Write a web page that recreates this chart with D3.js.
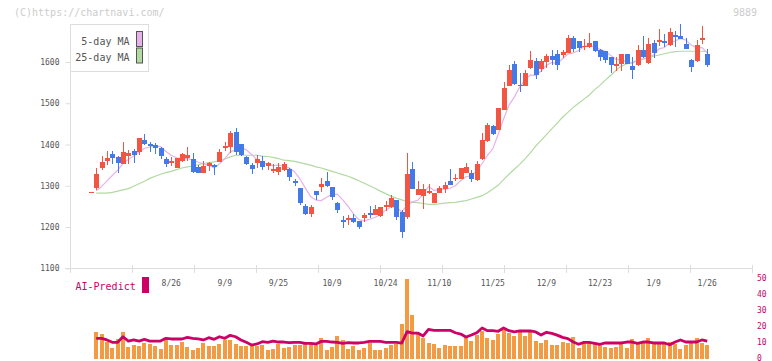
<!DOCTYPE html>
<html><head><meta charset="utf-8">
<script src="https://cdn.jsdelivr.net/npm/d3@7"></script>
<style>body{margin:0;background:#fff}svg{display:block}</style>
</head><body><svg id="c" width="772" height="361"></svg>
<script>
const dates = ["8/4","8/5","8/6","8/7","8/8","8/12","8/13","8/14","8/15","8/18","8/19","8/20","8/21","8/22","8/25","8/26","8/27","8/28","8/29","9/1","9/2","9/3","9/4","9/5","9/8","9/9","9/10","9/11","9/12","9/16","9/17","9/18","9/19","9/22","9/24","9/25","9/26","9/29","9/30","10/1","10/2","10/3","10/6","10/7","10/8","10/9","10/10","10/14","10/15","10/16","10/17","10/20","10/21","10/22","10/23","10/24","10/27","10/28","10/29","10/30","10/31","11/4","11/5","11/6","11/7","11/10","11/11","11/12","11/13","11/14","11/17","11/18","11/19","11/20","11/21","11/25","11/26","11/27","11/28","12/1","12/2","12/3","12/4","12/5","12/8","12/9","12/10","12/11","12/12","12/15","12/16","12/17","12/18","12/19","12/22","12/23","12/24","12/25","12/26","12/29","12/30","1/5","1/6","1/7","1/8","1/9","1/13","1/14","1/15","1/16","1/19","1/20","1/21","1/22","1/23","1/26"];

const open = [1285,
1294,1344,1361,1378,1370,1353,1373,1384,1382,1411,
1401,1399,1392,1365,1356,1344,1360,1368,1366,1345,
1332,1347,1351,1358,1392,1395,1430,1401,1370,1350,
1356,1361,1347,1339,1334,1338,1341,1312,1294,1251,
1232,1287,1297,1311,1297,1258,1218,1218,1222,1215,
1222,1234,1229,1227,1249,1249,1265,1236,1225,1341,
1278,1275,1286,1258,1282,1292,1311,1318,1316,1331,
1331,1314,1365,1408,1445,1435,1484,1542,1595,1545,
1542,1585,1602,1583,1600,1614,1619,1617,1622,1658,
1651,1638,1636,1651,1629,1626,1612,1594,1595,1619,
1590,1593,1629,1597,1646,1648,1651,1641,1665,1663,
1643,1604,1602,1657,1619];

const high = [1285,
1343,1372,1384,1384,1372,1406,1387,1389,1416,1425,
1406,1403,1395,1369,1370,1367,1380,1394,1379,1350,
1359,1358,1353,1390,1406,1433,1441,1402,1372,1354,
1375,1372,1358,1352,1354,1358,1342,1316,1295,1256,
1253,1288,1320,1334,1298,1261,1227,1229,1232,1215,
1234,1251,1253,1249,1264,1278,1266,1241,1379,1358,
1312,1304,1304,1282,1299,1309,1341,1329,1343,1355,
1339,1360,1429,1452,1447,1488,1551,1593,1602,1573,
1581,1627,1609,1607,1619,1629,1629,1629,1665,1663,
1652,1656,1670,1652,1631,1627,1613,1612,1619,1620,
1612,1641,1663,1658,1653,1680,1668,1682,1675,1692,
1658,1607,1653,1687,1631];

const low = [1285,
1289,1338,1350,1353,1332,1352,1353,1356,1374,1399,
1382,1377,1365,1346,1348,1344,1358,1360,1331,1331,
1331,1336,1326,1357,1384,1380,1375,1372,1351,1329,
1344,1338,1338,1332,1327,1336,1312,1299,1253,1229,
1225,1266,1286,1296,1266,1235,1198,1205,1211,1195,
1213,1223,1228,1225,1240,1246,1218,1173,1220,1291,
1277,1244,1280,1258,1282,1282,1301,1312,1316,1330,
1309,1312,1362,1407,1423,1435,1483,1541,1544,1527,
1541,1584,1559,1575,1585,1593,1580,1609,1621,1624,
1624,1629,1635,1624,1602,1598,1573,1578,1578,1595,
1559,1590,1609,1595,1609,1639,1636,1639,1636,1655,
1631,1575,1600,1644,1588];

const close = [1285,
1328,1358,1367,1368,1355,1382,1380,1375,1416,1402,
1396,1391,1372,1352,1360,1367,1378,1375,1334,1332,
1348,1356,1346,1382,1396,1429,1382,1375,1353,1341,
1365,1346,1354,1340,1346,1353,1322,1307,1259,1232,
1248,1278,1304,1299,1272,1241,1213,1223,1212,1200,
1229,1229,1244,1248,1253,1270,1224,1189,1328,1292,
1292,1292,1287,1282,1295,1302,1302,1319,1343,1345,
1316,1353,1411,1447,1425,1488,1537,1580,1546,1544,
1573,1604,1568,1602,1614,1605,1593,1624,1658,1631,
1634,1639,1646,1626,1612,1605,1593,1595,1619,1595,
1580,1629,1612,1643,1622,1653,1646,1672,1660,1655,
1631,1588,1641,1658,1593];

const ma5 = [null,
1288,1298,1312,1325,1338,1354,1364,1372,1382,1391,
1394,1396,1395,1383,1374,1368,1366,1366,1363,1357,
1353,1349,1343,1353,1366,1382,1387,1393,1387,1376,
1363,1356,1352,1349,1350,1348,1343,1334,1317,1295,
1274,1265,1264,1272,1280,1279,1266,1250,1232,1218,
1215,1219,1223,1230,1241,1249,1248,1237,1253,1261,
1265,1279,1298,1289,1290,1292,1294,1300,1312,1322,
1325,1335,1354,1374,1390,1425,1462,1495,1515,1539,
1556,1569,1567,1578,1592,1599,1596,1608,1619,1622,
1628,1637,1642,1635,1631,1626,1616,1606,1605,1601,
1596,1604,1607,1612,1617,1632,1635,1647,1651,1657,
1653,1641,1635,1635,1622];

const ma25 = [null,
1282,1282,1282,1284,1287,1290,1293,1299,1305,1311,
1318,1323,1328,1332,1335,1339,1343,1346,1348,1351,
1354,1356,1358,1361,1365,1370,1374,1374,1374,1374,
1374,1372,1371,1369,1366,1362,1361,1359,1356,1353,
1350,1346,1343,1339,1335,1331,1327,1323,1318,1312,
1306,1300,1294,1287,1281,1275,1270,1266,1262,1260,
1259,1257,1255,1255,1256,1258,1259,1260,1262,1264,
1268,1272,1276,1283,1292,1301,1315,1328,1340,1352,
1365,1380,1396,1410,1424,1438,1452,1466,1478,1490,
1500,1510,1520,1533,1544,1556,1568,1580,1590,1595,
1600,1604,1607,1610,1614,1617,1620,1623,1625,1626,
1626,1626,1626,1626,1625];

const volume = [null,
16.6,15.3,10.5,6.6,12.2,16.6,7.2,8.4,7.8,9.7,
9.1,7.8,5.9,12.2,8.4,8.4,10.3,7.2,5.3,6.6,
9.7,7.8,7.8,9.1,11.6,11.6,9.1,7.8,7.8,7.8,
7.8,8.4,5.3,5.9,9.1,6.6,7.2,8.4,8.4,9.1,
9.1,8.4,12.8,5.3,7.2,14.1,11.6,5.9,7.8,5.3,
6.6,9.7,5.3,5.3,6.6,8.4,9.1,21.6,50,27.2,
15.3,12.8,9.7,9.1,6.6,8.4,7.8,7.8,7.8,13.4,
10.9,14.7,17.2,12.8,11.6,15.3,17.8,15.9,14.1,16.6,
14.1,17.8,10.9,9.7,11.6,8.4,8.4,10.3,9.7,13.4,
6.6,10.3,10.3,9.1,9.7,7.2,6.6,7.2,9.7,6.6,
12.2,9.7,10.3,12.8,9.7,10.3,9.7,10.3,9.1,5.9,
8.4,10.3,12.8,9.7,8.4];

const aiPredict = [null,
12.6,12.6,11.6,10.1,10.1,13.6,10.9,11.6,10.9,12.0,
10.9,10.9,10.9,12.6,12.2,12.2,12.2,13.2,12.6,12.2,
11.6,13.0,12.0,13.6,12.6,14.5,13.6,11.6,10.1,8.4,
9.1,10.5,10.1,10.9,10.3,10.3,9.9,10.1,10.1,9.5,
9.5,9.1,10.7,10.7,10.3,10.1,9.5,9.9,9.7,9.7,
10.1,10.7,10.7,10.7,10.1,10.1,10.1,9.6,16.8,15.9,
15.9,14.1,18.2,17.6,17.6,17.6,17.6,16.1,15.3,13.4,
14.7,16.1,19.1,17.4,17.4,17.0,19.1,17.4,16.6,17.2,
17.2,17.2,16.6,14.7,16.4,15.7,14.6,13.2,12.4,10.3,
8.9,10.1,10.1,9.5,8.9,9.7,9.7,9.7,9.7,10.3,
10.3,9.5,10.3,10.3,9.7,9.7,9.7,8.6,10.3,11.6,
10.3,10.3,10.3,11.6,10.8];

const priceTicks = [1100,1200,1300,1400,1500,1600];
const dateLabels = ["8/26","9/9","9/25","10/9","10/24","11/10","11/25","12/9","12/23","1/9","1/26"];
const volTicks = [0,10,20,30,40,50];
const legendItems = ["5-day MA","25-day MA"];

const C = {up:"#f25542", down:"#4479e8", ma5:"#e6b2ea", ma25:"#b2d9a2", vol:"#f39a43", ai:"#cc0066", axis:"#dddddd", text:"#555555", wm:"#cccccc"};
const FONT = "'DejaVu Sans Mono', monospace";

const svg = d3.select("#c");
const x = d3.scalePoint().domain(dates).range([90.84, 707.24]);
const y = d3.scaleLinear().domain([1100,1600]).range([268.3, 62]);
const yV = d3.scaleLinear().domain([0,50]).range([358.5, 278.5]);
const xGrid = d3.scaleLinear().domain([0,11]).range([70,752]);
const idx = d3.range(dates.length);

// watermark
svg.append("text").attr("x",14).attr("y",15.5).attr("font-family",FONT).attr("font-size",10)
  .attr("fill",C.wm).text("(C)https://chartnavi.com/");
svg.append("text").attr("x",757).attr("y",15.5).attr("text-anchor","end").attr("font-family",FONT)
  .attr("font-size",10).attr("fill",C.wm).text("9889");

// y axis
const yAxis = d3.axisLeft(y).tickValues(priceTicks).tickFormat(d3.format("d")).tickSize(5).tickPadding(6);
const gy = svg.append("g").attr("transform","translate(70.5,0)").call(yAxis);
gy.select(".domain").remove();
gy.selectAll(".tick line").attr("stroke",C.axis);
gy.selectAll(".tick text").attr("font-family",FONT).attr("font-size",8).attr("fill",C.text);
svg.append("line").attr("x1",70.5).attr("x2",70.5).attr("y1",24).attr("y2",268.5).attr("stroke",C.axis);

// x axis
svg.append("line").attr("x1",65).attr("x2",752).attr("y1",268.5).attr("y2",268.5).attr("stroke",C.axis);
svg.append("g").selectAll("line").data(d3.range(12)).join("line")
  .attr("x1",d=>Math.round(xGrid(d))+0.5).attr("x2",d=>Math.round(xGrid(d))+0.5)
  .attr("y1",265).attr("y2",273).attr("stroke",C.axis);
svg.append("g").selectAll("text").data(dateLabels).join("text")
  .attr("x",d=>x(d)).attr("y",285.5).attr("text-anchor","middle")
  .attr("font-family",FONT).attr("font-size",8).attr("fill",C.text).text(d=>d);

// MA lines
const mkLine = arr => d3.line().defined(i=>arr[i]!=null).x(i=>x(dates[i])).y(i=>y(arr[i]));
svg.append("path").datum(idx).attr("d",mkLine(ma25)).attr("fill","none").attr("stroke",C.ma25).attr("stroke-width",1.2);
svg.append("path").datum(idx).attr("d",mkLine(ma5)).attr("fill","none").attr("stroke",C.ma5).attr("stroke-width",1.2);

// candles
const cg = svg.append("g").attr("shape-rendering","crispEdges");
const col = i => close[i] >= open[i] ? C.up : C.down;
cg.selectAll("line").data(idx).join("line")
  .attr("x1",i=>Math.round(x(dates[i]))+0.5).attr("x2",i=>Math.round(x(dates[i]))+0.5)
  .attr("y1",i=>y(high[i])).attr("y2",i=>y(low[i])).attr("stroke",col);
cg.selectAll("rect").data(idx).join("rect")
  .attr("x",i=>Math.round(x(dates[i]))-2).attr("width",5)
  .attr("y",i=>Math.min(y(open[i]),y(close[i])))
  .attr("height",i=>Math.max(1.5,Math.abs(y(open[i])-y(close[i]))))
  .attr("fill",col);

// legend
const lg = svg.append("g");
lg.append("rect").attr("x",70.5).attr("y",24.5).attr("width",78).attr("height",47).attr("fill","#fff").attr("stroke",C.axis);
lg.selectAll("text").data(legendItems).join("text")
  .attr("x",129.5).attr("y",(d,i)=>44.5+i*16).attr("text-anchor","end")
  .attr("font-family",FONT).attr("font-size",10).attr("fill",C.text).text(d=>d);
lg.selectAll("rect.sw").data([C.ma5,C.ma25]).join("rect").attr("class","sw")
  .attr("x",136.5).attr("y",(d,i)=>31.5+i*16.5).attr("width",6).attr("height",15)
  .attr("fill",d=>d).attr("stroke","#555");

// volume panel
const vIdx = idx.filter(i=>volume[i]!=null);
svg.append("g").attr("shape-rendering","crispEdges").selectAll("rect").data(vIdx).join("rect")
  .attr("x",i=>Math.round(x(dates[i]))-2).attr("width",4)
  .attr("y",i=>yV(volume[i])).attr("height",i=>yV(0)-yV(volume[i])).attr("fill",C.vol);
svg.append("path").datum(idx).attr("d",
  d3.line().defined(i=>aiPredict[i]!=null).x(i=>x(dates[i])).y(i=>yV(aiPredict[i]))
).attr("fill","none").attr("stroke",C.ai).attr("stroke-width",2.8).attr("stroke-linejoin","round");

svg.append("g").selectAll("text").data(volTicks).join("text")
  .attr("x",757).attr("y",d=>yV(d)+2).attr("font-family",FONT).attr("font-size",8)
  .attr("fill",C.ai).text(d=>d);

svg.append("text").attr("x",75.5).attr("y",290).attr("font-family",FONT).attr("font-size",10)
  .attr("fill",C.ai).text("AI-Predict");
svg.append("rect").attr("x",142).attr("y",277).attr("width",7).attr("height",16).attr("fill",C.ai);
</script>
</body></html>
